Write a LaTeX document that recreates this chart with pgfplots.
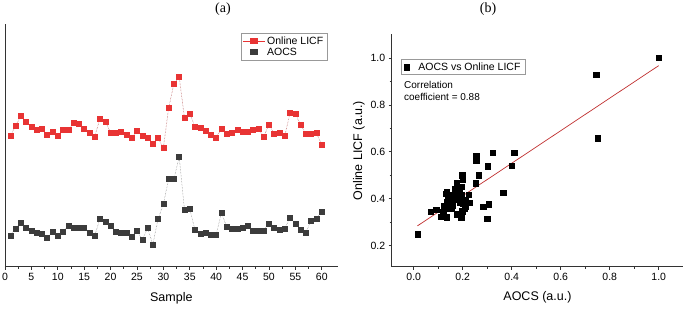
\documentclass[border=0pt]{standalone}
\usepackage{pgfplots}
\pgfplotsset{compat=1.18}
\usepackage{fontspec}
\setmainfont{Liberation Sans}
\newfontfamily\serif{Liberation Serif}
\definecolor{licf}{RGB}{232,52,52}
\definecolor{aocs}{RGB}{60,60,60}
\definecolor{fitred}{RGB}{192,48,48}
\begin{document}
\begin{tikzpicture}[x=1pt,y=1pt]
\useasboundingbox (0,0) rectangle (685,309);
\node[font=\serif\fontsize{14}{16}\selectfont] at (223,300) {(a)};
\node[font=\serif\fontsize{14}{16}\selectfont] at (488,300) {(b)};
\begin{axis}[
  at={(5pt,42.3pt)}, anchor=south west, scale only axis,
  width=332.6pt, height=243pt,
  xmin=0, xmax=63, ymin=0, ymax=730,
  axis x line*=bottom, axis y line*=left,
  axis line style={black!80, line width=0.8pt},
  ytick=\empty,
  xtick={0,5,...,60}, minor x tick num=1,
  tick align=outside, tick style={black!80, line width=0.6pt},
  major tick length=3pt, minor tick length=2pt,
  /pgf/number format/assume math mode=true,
  tick label style={font=\fontsize{10.5}{12}\selectfont},
  xlabel={Sample}, xlabel style={font=\fontsize{12.5}{14}\selectfont, yshift=-5pt},
  legend style={at={(0.709,0.962)}, anchor=north west, draw=black!40, font=\fontsize{10.5}{11}\selectfont, inner sep=1.5pt, row sep=-2pt, cells={anchor=west}, legend image post style={xscale=1.3}},
  legend cell align=left,
]
\addplot[densely dotted, red!40!gray, line width=0.5pt, mark=square*, mark size=2.5pt, mark options={solid, draw=licf, fill=licf}, forget plot] coordinates {
(1,392)(2,423)(3,452)(4,436)(5,420)(6,412)(7,415)(8,397)(9,406)(10,394)
(11,411)(12,412)(13,431)(14,430)(15,415)(16,402)(17,391)(18,445)(19,436)(20,403)
(21,403)(22,405)(23,396)(24,388)(25,408)(26,394)(27,388)(28,368)(29,386)(30,357)
(31,477)(32,550)(33,570)(34,446)(35,460)(36,419)(37,417)(38,407)(39,396)(40,388)
(41,415)(42,398)(43,403)(44,410)(45,405)(46,404)(47,410)(48,413)(49,391)(50,426)
(51,400)(52,403)(53,394)(54,462)(55,458)(56,427)(57,398)(58,399)(59,402)(60,366)};
\addplot[densely dotted, gray, line width=0.5pt, mark=square*, mark size=2.5pt, mark options={solid, draw=aocs, fill=aocs}, forget plot] coordinates {
(1,94)(2,115)(3,131)(4,118)(5,109)(6,103)(7,98)(8,87)(9,105)(10,93)
(11,105)(12,123)(13,117)(14,117)(15,117)(16,101)(17,94)(18,145)(19,134)(20,124)
(21,106)(22,101)(23,101)(24,91)(25,109)(26,80)(27,116)(28,67)(29,143)(30,188)
(31,263)(32,263)(33,330)(34,170)(35,173)(36,110)(37,98)(38,102)(39,95)(40,97)
(41,161)(42,120)(43,114)(44,114)(45,118)(46,123)(47,107)(48,109)(49,109)(50,130)
(51,118)(52,112)(53,115)(54,148)(55,130)(56,110)(57,103)(58,139)(59,145)(60,165)};
\addlegendimage{licf, line width=0.5pt, mark=square*, mark size=2.5pt, mark options={fill=licf}}
\addlegendentry{Online LICF}
\addlegendimage{only marks, mark=square*, mark size=2.5pt, mark options={draw=aocs, fill=aocs}}
\addlegendentry{AOCS}
\end{axis}
\begin{axis}[
  at={(391.7pt,42.3pt)}, anchor=south west, scale only axis,
  width=291.5pt, height=232.3pt,
  xmin=-0.09, xmax=1.1, ymin=0.11, ymax=1.1,
  axis x line*=bottom, axis y line*=left,
  axis line style={black!80, line width=0.8pt},
  xtick={0,0.2,...,1.0}, ytick={0.2,0.4,...,1.0},
  minor x tick num=1, minor y tick num=1,
  tick align=outside, tick style={black!80, line width=0.6pt},
  major tick length=3pt, minor tick length=2pt,
  /pgf/number format/assume math mode=true,
  /pgf/number format/fixed, /pgf/number format/fixed zerofill, /pgf/number format/precision=1,
  tick label style={font=\fontsize{10.5}{12}\selectfont},
  xlabel={AOCS (a.u.)}, ylabel={Online LICF (a.u.)},
  label style={font=\fontsize{12.5}{14}\selectfont},
  xlabel style={yshift=-4pt}, ylabel style={yshift=-1pt},
  legend style={at={(0.031,0.893)}, anchor=north west, draw=black!40, font=\fontsize{10.5}{11}\selectfont, inner xsep=3pt, inner ysep=1pt, /tikz/every odd column/.append style={column sep=7pt}},
  legend cell align=left,
]
\addplot[only marks, mark=square*, mark size=2.7pt, black] coordinates {
(1.0,1.0)(0.745,0.929)(0.75,0.657)(0.015,0.248)(0.068,0.345)(0.092,0.352)(0.11,0.324)(0.135,0.321)
(0.255,0.584)(0.255,0.562)(0.322,0.595)(0.41,0.595)(0.40,0.540)(0.303,0.538)(0.265,0.50)(0.252,0.466)
(0.365,0.425)(0.305,0.376)(0.283,0.366)(0.30,0.314)(0.198,0.50)(0.20,0.482)(0.175,0.468)(0.195,0.452)
(0.135,0.43)(0.14,0.418)(0.168,0.44)(0.185,0.44)(0.195,0.418)(0.225,0.416)(0.15,0.408)(0.165,0.405)
(0.147,0.392)(0.16,0.392)(0.18,0.396)(0.134,0.385)(0.155,0.378)(0.188,0.385)(0.202,0.381)(0.213,0.385)
(0.228,0.383)(0.213,0.366)(0.208,0.356)(0.143,0.36)(0.128,0.36)(0.155,0.356)(0.178,0.334)(0.198,0.346)
(0.193,0.32)(0.12,0.345)(0.13,0.42)(0.17,0.425)(0.145,0.37)(0.182,0.412)(0.21,0.395)(0.14,0.40)
(0.125,0.37)(0.16,0.37)};
\addlegendentry{AOCS vs Online LICF}
\addplot[fitred, line width=0.7pt, forget plot] coordinates {(0.015,0.284)(1.0,0.967)};
\node[anchor=north west, align=left, font=\fontsize{10}{12.5}\selectfont, inner sep=0pt] at (rel axis cs:0.042,0.80) {Correlation\\coefficient = 0.88};
\end{axis}
\end{tikzpicture}
\end{document}
